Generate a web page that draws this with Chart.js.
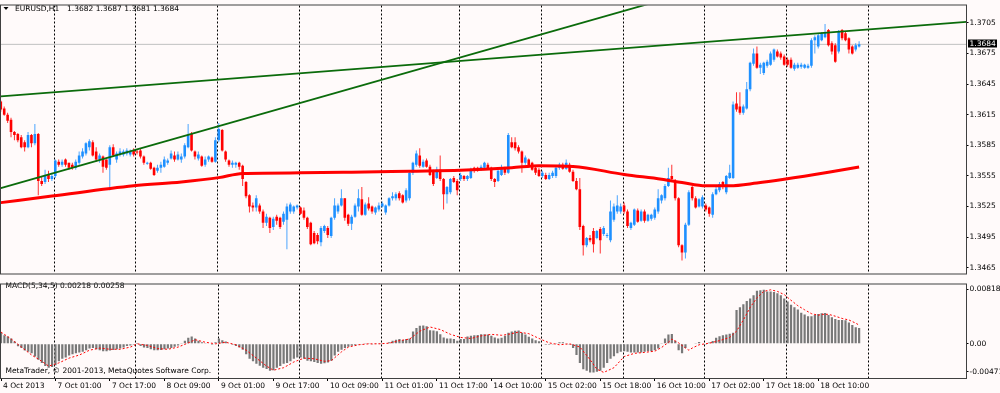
<!DOCTYPE html>
<html>
<head>
<meta charset="utf-8">
<title>EURUSD,H1</title>
<script src="https://cdn.jsdelivr.net/npm/chart.js@4.4.1/dist/chart.umd.min.js"></script>
<style>
  html, body { margin: 0; padding: 0; background: #FFFAFA; overflow: hidden; }
  #wrap { position: relative; width: 1000px; height: 393px; }
  canvas { position: absolute; left: 0; }
  #priceCanvas { top: 0; }
  #macdCanvas { top: 279px; }
</style>
</head>
<body>
<div id="wrap">
  <canvas id="priceCanvas" width="1000" height="279"></canvas>
  <canvas id="macdCanvas" width="1000" height="114"></canvas>
</div>
<script>
// EURUSD H1, bar 0 = 4 Oct 2013, last bar = 18 Oct 22:00
const symbol = 'EURUSD,H1';

const opens = [
  1.3628, 1.3621, 1.3615, 1.3610, 1.3598, 1.3596, 1.3593, 1.3588, 1.3583, 1.3595,
  1.3587, 1.3596, 1.3550, 1.3549, 1.3556, 1.3552, 1.3555, 1.3569, 1.3566, 1.3571,
  1.3568, 1.3566, 1.3563, 1.3568, 1.3574, 1.3577, 1.3583, 1.3588, 1.3579, 1.3571,
  1.3574, 1.3571, 1.3566, 1.3583, 1.3571, 1.3576, 1.3576, 1.3577, 1.3576, 1.3580,
  1.3579, 1.3580, 1.3574, 1.3567, 1.3568, 1.3563, 1.3560, 1.3563, 1.3564, 1.3568,
  1.3572, 1.3575, 1.3571, 1.3571, 1.3574, 1.3583, 1.3596, 1.3579, 1.3572, 1.3574,
  1.3566, 1.3571, 1.3573, 1.3569, 1.3590, 1.3600, 1.3579, 1.3570, 1.3566, 1.3566,
  1.3568, 1.3565, 1.3549, 1.3536, 1.3526, 1.3524, 1.3526, 1.3520, 1.3509, 1.3514,
  1.3505, 1.3515, 1.3514, 1.3510, 1.3512, 1.3520, 1.3520, 1.3524, 1.3524, 1.3521,
  1.3514, 1.3509, 1.3499, 1.3497, 1.3490, 1.3501, 1.3504, 1.3496, 1.3514, 1.3520,
  1.3526, 1.3533, 1.3517, 1.3508, 1.3515, 1.3525, 1.3532, 1.3517, 1.3528, 1.3525,
  1.3519, 1.3522, 1.3525, 1.3519, 1.3526, 1.3533, 1.3533, 1.3538, 1.3536, 1.3531,
  1.3533, 1.3558, 1.3566, 1.3575, 1.3564, 1.3570, 1.3564, 1.3560, 1.3553, 1.3561,
  1.3552, 1.3537, 1.3539, 1.3553, 1.3550, 1.3552, 1.3555, 1.3552, 1.3553, 1.3563,
  1.3563, 1.3561, 1.3563, 1.3566, 1.3563, 1.3552, 1.3550, 1.3556, 1.3563, 1.3558,
  1.3588, 1.3588, 1.3583, 1.3579, 1.3568, 1.3571, 1.3568, 1.3563, 1.3561, 1.3555,
  1.3556, 1.3552, 1.3555, 1.3555, 1.3563, 1.3566, 1.3562, 1.3566, 1.3559, 1.3550,
  1.3542, 1.3506, 1.3487, 1.3494, 1.3501, 1.3494, 1.3503, 1.3498, 1.3496, 1.3492,
  1.3512, 1.3520, 1.3520, 1.3526, 1.3520, 1.3504, 1.3507, 1.3521, 1.3511, 1.3520,
  1.3511, 1.3513, 1.3514, 1.3520, 1.3531, 1.3533, 1.3545, 1.3555, 1.3550, 1.3533,
  1.3487, 1.3480, 1.3507, 1.3544, 1.3533, 1.3525, 1.3525, 1.3526, 1.3524, 1.3517,
  1.3537, 1.3541, 1.3549, 1.3539, 1.3553, 1.3553, 1.3626, 1.3623, 1.3617, 1.3621,
  1.3640, 1.3665, 1.3675, 1.3661, 1.3656, 1.3663, 1.3664, 1.3669, 1.3677, 1.3675,
  1.3672, 1.3669, 1.3669, 1.3660, 1.3661, 1.3662, 1.3661, 1.3661, 1.3663, 1.3688,
  1.3682, 1.3688, 1.3691, 1.3698, 1.3685, 1.3683, 1.3677, 1.3698, 1.3695, 1.3690,
  1.3682, 1.3679, 1.3682
];

const highs = [
  1.3629, 1.3623, 1.3617, 1.3612, 1.3599, 1.3597, 1.3595, 1.3590, 1.3598, 1.3596,
  1.3606, 1.3597, 1.3555, 1.3561, 1.3560, 1.3558, 1.3571, 1.3571, 1.3571, 1.3572,
  1.3568, 1.3568, 1.3571, 1.3579, 1.3582, 1.3588, 1.3591, 1.3590, 1.3583, 1.3577,
  1.3575, 1.3571, 1.3585, 1.3586, 1.3579, 1.3582, 1.3581, 1.3582, 1.3581, 1.3582,
  1.3581, 1.3582, 1.3575, 1.3569, 1.3569, 1.3564, 1.3566, 1.3569, 1.3574, 1.3572,
  1.3580, 1.3579, 1.3579, 1.3577, 1.3587, 1.3606, 1.3598, 1.3580, 1.3579, 1.3575,
  1.3574, 1.3575, 1.3574, 1.3593, 1.3607, 1.3601, 1.3580, 1.3571, 1.3570, 1.3569,
  1.3569, 1.3566, 1.3550, 1.3537, 1.3529, 1.3536, 1.3528, 1.3522, 1.3518, 1.3515,
  1.3515, 1.3517, 1.3515, 1.3520, 1.3528, 1.3529, 1.3526, 1.3527, 1.3525, 1.3524,
  1.3515, 1.3510, 1.3501, 1.3499, 1.3506, 1.3507, 1.3506, 1.3515, 1.3533, 1.3528,
  1.3542, 1.3533, 1.3518, 1.3517, 1.3528, 1.3542, 1.3544, 1.3529, 1.3534, 1.3526,
  1.3525, 1.3529, 1.3530, 1.3527, 1.3534, 1.3539, 1.3539, 1.3540, 1.3537, 1.3543,
  1.3560, 1.3569, 1.3580, 1.3582, 1.3571, 1.3572, 1.3566, 1.3561, 1.3564, 1.3575,
  1.3553, 1.3545, 1.3553, 1.3555, 1.3552, 1.3558, 1.3556, 1.3556, 1.3563, 1.3564,
  1.3564, 1.3566, 1.3569, 1.3568, 1.3564, 1.3553, 1.3561, 1.3566, 1.3564, 1.3597,
  1.3593, 1.3593, 1.3585, 1.3580, 1.3575, 1.3572, 1.3569, 1.3564, 1.3563, 1.3560,
  1.3558, 1.3558, 1.3560, 1.3564, 1.3568, 1.3568, 1.3571, 1.3568, 1.3561, 1.3553,
  1.3553, 1.3507, 1.3495, 1.3497, 1.3504, 1.3502, 1.3505, 1.3506, 1.3499, 1.3531,
  1.3528, 1.3536, 1.3528, 1.3529, 1.3522, 1.3510, 1.3523, 1.3523, 1.3522, 1.3522,
  1.3518, 1.3518, 1.3524, 1.3542, 1.3537, 1.3547, 1.3563, 1.3566, 1.3552, 1.3534,
  1.3488, 1.3509, 1.3541, 1.3545, 1.3535, 1.3533, 1.3536, 1.3528, 1.3525, 1.3539,
  1.3544, 1.3549, 1.3550, 1.3556, 1.3566, 1.3628, 1.3637, 1.3637, 1.3625, 1.3647,
  1.3667, 1.3680, 1.3682, 1.3666, 1.3667, 1.3669, 1.3677, 1.3680, 1.3679, 1.3677,
  1.3674, 1.3671, 1.3671, 1.3666, 1.3666, 1.3666, 1.3665, 1.3665, 1.3690, 1.3693,
  1.3695, 1.3696, 1.3704, 1.3699, 1.3687, 1.3685, 1.3698, 1.3699, 1.3696, 1.3691,
  1.3683, 1.3685, 1.3687
];

const lows = [
  1.3618, 1.3614, 1.3607, 1.3593, 1.3590, 1.3588, 1.3582, 1.3579, 1.3582, 1.3583,
  1.3585, 1.3536, 1.3545, 1.3547, 1.3549, 1.3550, 1.3553, 1.3564, 1.3564, 1.3564,
  1.3561, 1.3561, 1.3561, 1.3566, 1.3572, 1.3575, 1.3580, 1.3574, 1.3569, 1.3568,
  1.3558, 1.3561, 1.3541, 1.3574, 1.3568, 1.3574, 1.3574, 1.3575, 1.3574, 1.3574,
  1.3576, 1.3572, 1.3566, 1.3566, 1.3561, 1.3555, 1.3558, 1.3558, 1.3563, 1.3566,
  1.3571, 1.3569, 1.3570, 1.3568, 1.3572, 1.3582, 1.3579, 1.3571, 1.3570, 1.3564,
  1.3564, 1.3569, 1.3568, 1.3568, 1.3588, 1.3579, 1.3569, 1.3564, 1.3563, 1.3563,
  1.3561, 1.3545, 1.3533, 1.3519, 1.3520, 1.3520, 1.3518, 1.3504, 1.3506, 1.3499,
  1.3502, 1.3507, 1.3503, 1.3507, 1.3483, 1.3518, 1.3518, 1.3522, 1.3517, 1.3512,
  1.3503, 1.3487, 1.3488, 1.3488, 1.3486, 1.3499, 1.3494, 1.3494, 1.3512, 1.3518,
  1.3525, 1.3511, 1.3506, 1.3502, 1.3514, 1.3520, 1.3516, 1.3516, 1.3521, 1.3518,
  1.3517, 1.3520, 1.3524, 1.3517, 1.3525, 1.3531, 1.3531, 1.3531, 1.3528, 1.3529,
  1.3531, 1.3556, 1.3564, 1.3563, 1.3563, 1.3563, 1.3555, 1.3545, 1.3552, 1.3550,
  1.3522, 1.3528, 1.3537, 1.3548, 1.3536, 1.3550, 1.3550, 1.3550, 1.3552, 1.3558,
  1.3559, 1.3560, 1.3561, 1.3561, 1.3550, 1.3544, 1.3549, 1.3555, 1.3556, 1.3557,
  1.3582, 1.3580, 1.3577, 1.3558, 1.3566, 1.3563, 1.3560, 1.3556, 1.3554, 1.3553,
  1.3551, 1.3551, 1.3553, 1.3553, 1.3561, 1.3561, 1.3561, 1.3558, 1.3549, 1.3541,
  1.3502, 1.3477, 1.3485, 1.3490, 1.3480, 1.3493, 1.3479, 1.3496, 1.3494, 1.3490,
  1.3510, 1.3518, 1.3518, 1.3518, 1.3504, 1.3502, 1.3506, 1.3509, 1.3510, 1.3509,
  1.3510, 1.3511, 1.3512, 1.3518, 1.3528, 1.3531, 1.3544, 1.3550, 1.3531, 1.3485,
  1.3472, 1.3474, 1.3506, 1.3531, 1.3523, 1.3524, 1.3523, 1.3520, 1.3515, 1.3514,
  1.3536, 1.3539, 1.3542, 1.3537, 1.3552, 1.3552, 1.3618, 1.3615, 1.3615, 1.3620,
  1.3638, 1.3663, 1.3660, 1.3655, 1.3654, 1.3661, 1.3663, 1.3667, 1.3671, 1.3669,
  1.3663, 1.3662, 1.3660, 1.3658, 1.3660, 1.3660, 1.3660, 1.3660, 1.3661, 1.3675,
  1.3680, 1.3687, 1.3690, 1.3682, 1.3674, 1.3666, 1.3675, 1.3688, 1.3687, 1.3675,
  1.3674, 1.3677, 1.3681
];

const closes = [
  1.3620, 1.3615, 1.3609, 1.3598, 1.3595, 1.3590, 1.3583, 1.3583, 1.3595, 1.3587,
  1.3596, 1.3550, 1.3547, 1.3556, 1.3552, 1.3555, 1.3570, 1.3566, 1.3569, 1.3566,
  1.3563, 1.3563, 1.3569, 1.3575, 1.3579, 1.3587, 1.3589, 1.3575, 1.3571, 1.3575,
  1.3564, 1.3563, 1.3583, 1.3575, 1.3577, 1.3579, 1.3579, 1.3580, 1.3579, 1.3576,
  1.3578, 1.3574, 1.3568, 1.3568, 1.3562, 1.3556, 1.3563, 1.3566, 1.3571, 1.3570,
  1.3577, 1.3571, 1.3576, 1.3574, 1.3585, 1.3595, 1.3580, 1.3574, 1.3576, 1.3565,
  1.3571, 1.3574, 1.3569, 1.3590, 1.3601, 1.3580, 1.3571, 1.3566, 1.3568, 1.3568,
  1.3564, 1.3552, 1.3535, 1.3525, 1.3524, 1.3533, 1.3520, 1.3509, 1.3515, 1.3504,
  1.3513, 1.3511, 1.3505, 1.3518, 1.3525, 1.3527, 1.3525, 1.3526, 1.3518, 1.3514,
  1.3505, 1.3488, 1.3489, 1.3491, 1.3504, 1.3506, 1.3497, 1.3514, 1.3526, 1.3526,
  1.3533, 1.3514, 1.3508, 1.3515, 1.3526, 1.3533, 1.3517, 1.3527, 1.3523, 1.3520,
  1.3524, 1.3526, 1.3528, 1.3526, 1.3533, 1.3535, 1.3537, 1.3533, 1.3529, 1.3541,
  1.3558, 1.3568, 1.3577, 1.3565, 1.3569, 1.3564, 1.3556, 1.3547, 1.3561, 1.3552,
  1.3537, 1.3544, 1.3552, 1.3549, 1.3541, 1.3556, 1.3552, 1.3555, 1.3561, 1.3560,
  1.3561, 1.3564, 1.3568, 1.3562, 1.3552, 1.3549, 1.3560, 1.3563, 1.3558, 1.3595,
  1.3583, 1.3582, 1.3579, 1.3568, 1.3573, 1.3564, 1.3561, 1.3558, 1.3555, 1.3558,
  1.3552, 1.3556, 1.3558, 1.3563, 1.3566, 1.3562, 1.3568, 1.3559, 1.3550, 1.3542,
  1.3505, 1.3487, 1.3494, 1.3492, 1.3488, 1.3501, 1.3492, 1.3504, 1.3497, 1.3520,
  1.3525, 1.3526, 1.3525, 1.3520, 1.3506, 1.3509, 1.3522, 1.3510, 1.3520, 1.3511,
  1.3517, 1.3517, 1.3522, 1.3533, 1.3536, 1.3545, 1.3553, 1.3552, 1.3533, 1.3487,
  1.3480, 1.3507, 1.3539, 1.3533, 1.3524, 1.3532, 1.3534, 1.3522, 1.3518, 1.3537,
  1.3542, 1.3547, 1.3544, 1.3555, 1.3558, 1.3625, 1.3620, 1.3617, 1.3623, 1.3640,
  1.3666, 1.3675, 1.3661, 1.3664, 1.3666, 1.3667, 1.3675, 1.3679, 1.3672, 1.3671,
  1.3664, 1.3664, 1.3661, 1.3664, 1.3664, 1.3664, 1.3664, 1.3663, 1.3688, 1.3691,
  1.3693, 1.3695, 1.3696, 1.3683, 1.3677, 1.3667, 1.3696, 1.3690, 1.3688, 1.3679,
  1.3675, 1.3683, 1.3684
];

// moving average read at a few bars along the red line
const maBars   = [0, 15, 39, 53, 64, 71, 88, 103, 120, 135, 150, 158, 168, 183, 194, 200, 207, 214, 222, 230, 243, 252];
const maValues = [1.35288, 1.35352, 1.35453, 1.35491, 1.35533, 1.35574, 1.35580, 1.35586, 1.35596, 1.35605, 1.35630,
                  1.35650, 1.35643, 1.35564, 1.35517, 1.35485, 1.35453, 1.35453, 1.35480, 1.35517, 1.35586, 1.35638];

// two trend lines (end points)
const trendABars = [0, 283.5];
const trendAPrices = [1.3633, 1.3706];
const trendBBars = [0, 200];
const trendBPrices = [1.3543, 1.3733];

// MACD(5,34,5) main (histogram)
const macdMain = [
   0.00153,  0.00118,  0.00101,  0.00074,  0.00031, -0.00032, -0.00058, -0.00092, -0.00110, -0.00131,
  -0.00175, -0.00219, -0.00263, -0.00307, -0.00329, -0.00320, -0.00294, -0.00241, -0.00206, -0.00188,
  -0.00162, -0.00145, -0.00131, -0.00118, -0.00110, -0.00088, -0.00066, -0.00058, -0.00075, -0.00088,
  -0.00101, -0.00101, -0.00092, -0.00084, -0.00075, -0.00066, -0.00049, -0.00031, -0.00023, -0.00014,
   0.00002, -0.00031, -0.00049, -0.00058, -0.00075, -0.00088, -0.00088, -0.00084, -0.00075, -0.00066,
  -0.00058, -0.00040, -0.00023,  0.00004,  0.00044,  0.00083,  0.00101,  0.00074,  0.00044,  0.00022,
   0.00004, -0.00005, -0.00014,  0.00022,  0.00074,  0.00048,  0.00031,  0.00009, -0.00014, -0.00031,
  -0.00049, -0.00080, -0.00145, -0.00206, -0.00241, -0.00276, -0.00302, -0.00329, -0.00346, -0.00372,
  -0.00364, -0.00329, -0.00307, -0.00276, -0.00263, -0.00241, -0.00206, -0.00188, -0.00188, -0.00206,
  -0.00232, -0.00241, -0.00250, -0.00263, -0.00276, -0.00267, -0.00258, -0.00232, -0.00162, -0.00110,
  -0.00080, -0.00058, -0.00040, -0.00027, -0.00018, -0.00010, -0.00002,  0.00013,  0.00004, -0.00001,
   0.00004,  0.00004,  0.00004,  0.00009,  0.00022,  0.00044,  0.00057,  0.00066,  0.00053,  0.00066,
   0.00074,  0.00171,  0.00219,  0.00250,  0.00254,  0.00241,  0.00188,  0.00184,  0.00175,  0.00131,
   0.00088,  0.00074,  0.00074,  0.00066,  0.00044,  0.00066,  0.00066,  0.00101,  0.00110,  0.00118,
   0.00123,  0.00131,  0.00131,  0.00127,  0.00110,  0.00088,  0.00074,  0.00083,  0.00110,  0.00153,
   0.00171,  0.00179,  0.00184,  0.00153,  0.00127,  0.00096,  0.00074,  0.00048,  0.00035,  0.00009,
  -0.00014, -0.00014, -0.00001,  0.00013,  0.00022,  0.00022,  0.00013, -0.00014, -0.00058, -0.00154,
  -0.00263, -0.00350, -0.00372, -0.00394, -0.00394, -0.00385, -0.00372, -0.00329, -0.00263, -0.00206,
  -0.00171, -0.00131, -0.00110, -0.00101, -0.00110, -0.00118, -0.00118, -0.00118, -0.00118, -0.00110,
  -0.00101, -0.00101, -0.00088, -0.00066,  0.00004,  0.00074,  0.00127,  0.00136,  0.00044, -0.00088,
  -0.00131, -0.00058, -0.00005,  0.00009,  0.00013,  0.00026,  0.00009, -0.00001,  0.00018,  0.00039,
   0.00083,  0.00105,  0.00118,  0.00127,  0.00140,  0.00153,  0.00468,  0.00503,  0.00547,  0.00591,
   0.00626,  0.00670,  0.00731,  0.00740,  0.00745,  0.00723,  0.00723,  0.00714,  0.00696,  0.00670,
   0.00626,  0.00583,  0.00539,  0.00503,  0.00473,  0.00429,  0.00403,  0.00381,  0.00381,  0.00399,
   0.00412,  0.00420,  0.00425,  0.00399,  0.00368,  0.00342,  0.00329,  0.00329,  0.00324,  0.00293,
   0.00258,  0.00228,  0.00218
];

// MACD signal line, read at selected bars
const signalBars = [0, 3, 6, 9, 12, 14, 17, 20, 23, 26, 29, 32, 35, 38, 40, 43, 46, 49, 52, 55, 57, 60, 63, 66, 69,
  72, 75, 78, 80, 83, 86, 89, 92, 95, 97, 100, 102, 105, 108, 111, 114, 117, 120, 123, 126, 129, 132, 135, 138, 141,
  144, 147, 149, 152, 155, 158, 161, 164, 167, 170, 173, 175, 177, 180, 183, 186, 189, 192, 194, 196, 197, 199, 201,
  202, 203, 205, 208, 211, 214, 216, 218, 220, 222, 224, 226, 228, 230, 232, 234, 236, 238, 240, 241, 243, 245, 247,
  249, 251, 252];
const signalValues = [0.00162, 0.00066, -0.00045, -0.00154, -0.00241, -0.00307, -0.00263, -0.00197, -0.00154, -0.00088,
  -0.00058, -0.00075, -0.00075, -0.00045, 0.00000, -0.00022, -0.00066, -0.00075, -0.00045, 0.00013, 0.00057, 0.00022,
  0.00000, 0.00022, -0.00013, -0.00088, -0.00197, -0.00307, -0.00364, -0.00329, -0.00250, -0.00197, -0.00206, -0.00241,
  -0.00232, -0.00110, -0.00045, -0.00013, 0.00000, 0.00000, 0.00009, 0.00044, 0.00066, 0.00175, 0.00232, 0.00197,
  0.00131, 0.00088, 0.00074, 0.00110, 0.00131, 0.00118, 0.00131, 0.00162, 0.00140, 0.00074, 0.00013, -0.00013, 0.00000,
  -0.00044, -0.00219, -0.00350, -0.00394, -0.00329, -0.00175, -0.00131, -0.00118, -0.00101, -0.00050, 0.00021, 0.00066,
  0.00013, -0.00058, -0.00088, -0.00058, -0.00013, 0.00009, 0.00044, 0.00088, 0.00175, 0.00329, 0.00503, 0.00635,
  0.00723, 0.00745, 0.00723, 0.00679, 0.00600, 0.00526, 0.00469, 0.00416, 0.00394, 0.00407, 0.00407, 0.00381, 0.00350,
  0.00329, 0.00285, 0.00258];

// axes
const xTickBars = [0, 16, 32, 48, 64, 80, 96, 112, 128, 144, 160, 176, 192, 208, 224, 240];
const xTickLabels = ['4 Oct 2013', '7 Oct 01:00', '7 Oct 17:00', '8 Oct 09:00', '9 Oct 01:00', '9 Oct 17:00',
  '10 Oct 09:00', '11 Oct 01:00', '11 Oct 17:00', '14 Oct 10:00', '15 Oct 02:00', '15 Oct 18:00',
  '16 Oct 10:00', '17 Oct 02:00', '17 Oct 18:00', '18 Oct 10:00'];
const gridBars = [15.6, 39.4, 63.6, 87.6, 111.5, 134.5, 158.5, 182.6, 206.5, 230.4, 254.5];
const priceTicks = [1.3705, 1.3675, 1.3645, 1.3615, 1.3585, 1.3555, 1.3525, 1.3495, 1.3465];
const macdTickValues = [0.00752, 0, -0.00388];
const macdTickLabels = ['0.00818', '0.00', '-0.00471'];

const xMin = 0, xMax = 283.53;
const priceMin = 1.34593, priceMax = 1.37221;
const macdMin = -0.00471, macdMax = 0.00818;

const last = closes.length - 1;
const bars = closes.map((_, i) => i);
const upColor = '#1E90FF', downColor = '#FF0000';
const bodyColors = bars.map(i => closes[i] >= opens[i] ? upColor : downColor);
const wickColors = bars.map(i => closes[i] >= opens[i] ? 'rgba(30,144,255,0.8)' : 'rgba(255,0,0,0.8)');

const axisFont = { family: 'DejaVu Sans', size: 7.5 };
const canvasFont = '7.5px "DejaVu Sans"';
const axisWidth = 33.5;

function pts(xs, ys) {
  return xs.map((x, i) => ({ x: x, y: ys[i] }));
}

// dotted vertical day lines + frame, shared by both windows
const mtGrid = {
  id: 'mtGrid',
  beforeDatasetsDraw(chart) {
    const { ctx, chartArea: a, scales } = chart;
    ctx.save();
    ctx.strokeStyle = '#000';
    ctx.lineWidth = 1;
    ctx.setLineDash([2, 2]);
    gridBars.forEach(b => {
      const px = Math.round(scales.x.getPixelForValue(b)) + 0.5;
      ctx.beginPath();
      ctx.moveTo(px, a.top);
      ctx.lineTo(px, a.bottom);
      ctx.stroke();
    });
    ctx.restore();
  },
  afterDraw(chart) {
    const { ctx, chartArea: a } = chart;
    ctx.save();
    ctx.strokeStyle = '#404040';
    ctx.lineWidth = 1;
    ctx.strokeRect(0.5, a.top - 0.5, 966, a.bottom - a.top + 1);
    ctx.restore();
  }
};

const priceLabels = {
  id: 'priceLabels',
  afterDraw(chart) {
    const { ctx, scales } = chart;
    ctx.save();
    ctx.fillStyle = '#000';
    ctx.font = canvasFont;
    ctx.textBaseline = 'middle';
    // little drop-down marker
    ctx.beginPath();
    ctx.moveTo(3.5, 7);
    ctx.lineTo(8.5, 7);
    ctx.lineTo(6, 10);
    ctx.closePath();
    ctx.fill();
    ctx.fillText(symbol, 15, 9);
    const ohlc = [opens[last], highs[last], lows[last], closes[last]].map(v => v.toFixed(4)).join(' ');
    ctx.fillText(ohlc, 67, 9);
    // bid box
    const yb = Math.round(scales.y.getPixelForValue(closes[last]));
    ctx.fillRect(968, yb - 4.5, 29, 8);
    ctx.fillStyle = '#fff';
    ctx.fillText(closes[last].toFixed(4), 969.5, yb);
    ctx.restore();
  }
};

const macdLabels = {
  id: 'macdLabels',
  afterDatasetsDraw(chart) {
    const { ctx } = chart;
    ctx.save();
    ctx.fillStyle = '#000';
    ctx.font = canvasFont;
    ctx.textBaseline = 'middle';
    ctx.fillText('MACD(5,34,5) ' + macdMain[last].toFixed(5) + ' ' + signalValues[signalValues.length - 1].toFixed(5), 5.5, 7.5);
    ctx.fillText('MetaTrader, \u00A9 2001-2013, MetaQuotes Software Corp.', 5.5, 92);
    ctx.restore();
  }
};

const priceChart = new Chart(document.getElementById('priceCanvas'), {
  type: 'bar',
  data: {
    datasets: [
      { type: 'line', data: pts(trendABars, trendAPrices), borderColor: '#0B6B0B', borderWidth: 1.8, pointRadius: 0, clip: 0 },
      { type: 'line', data: pts(trendBBars, trendBPrices), borderColor: '#0B6B0B', borderWidth: 1.8, pointRadius: 0, clip: 0 },
      { type: 'line', data: pts(maBars, maValues), borderColor: '#FF0000', borderWidth: 3, pointRadius: 0,
        cubicInterpolationMode: 'monotone', clip: 0 },
      { type: 'bar', data: bars.map(i => ({ x: i, y: [opens[i], closes[i]] })), backgroundColor: bodyColors,
        barThickness: 2.6, grouped: false, minBarLength: 1, inflateAmount: 0, borderWidth: 0, clip: 0 },
      { type: 'bar', data: bars.map(i => ({ x: i, y: [lows[i], highs[i]] })), backgroundColor: wickColors,
        barThickness: 1, grouped: false, inflateAmount: 0, borderWidth: 0, clip: 0 },
      { type: 'line', data: [{ x: xMin, y: closes[last] }, { x: xMax, y: closes[last] }], borderColor: '#C0C0C0',
        borderWidth: 1, pointRadius: 0, clip: 0 }
    ]
  },
  options: {
    responsive: false,
    animation: false,
    events: [],
    layout: { padding: { left: 0.8, top: 1, right: 0, bottom: 2 } },
    plugins: { legend: { display: false }, tooltip: { enabled: false } },
    scales: {
      x: { type: 'linear', display: false, min: xMin, max: xMax, offset: false, grid: { offset: false } },
      y: {
        type: 'linear', position: 'right', min: priceMin, max: priceMax,
        afterFit(s) { s.width = axisWidth; },
        afterBuildTicks(s) { s.ticks = priceTicks.map(v => ({ value: v })); },
        grid: { drawOnChartArea: false, tickLength: 2, tickColor: '#000', color: '#000' },
        border: { display: false },
        ticks: { callback: v => v.toFixed(4), font: axisFont, color: '#000', padding: 1, autoSkip: false }
      }
    }
  },
  plugins: [mtGrid, priceLabels]
});

const macdChart = new Chart(document.getElementById('macdCanvas'), {
  type: 'bar',
  data: {
    datasets: [
      { type: 'line', data: pts(signalBars, signalValues), borderColor: '#FF0000', borderWidth: 1, borderDash: [2, 2],
        pointRadius: 0, clip: 0 },
      { type: 'bar', data: bars.map(i => ({ x: i, y: macdMain[i] })), backgroundColor: '#787878',
        barThickness: 2.2, grouped: false, inflateAmount: 0, borderWidth: 0, clip: 0 }
    ]
  },
  options: {
    responsive: false,
    animation: false,
    events: [],
    layout: { padding: { left: 0.8, top: 1, right: 0, bottom: 0 } },
    plugins: { legend: { display: false }, tooltip: { enabled: false } },
    scales: {
      x: {
        type: 'linear', position: 'bottom', min: xMin, max: xMax, offset: false,
        afterFit(s) { s.height = 15; },
        afterBuildTicks(s) { s.ticks = xTickBars.map(v => ({ value: v })); },
        grid: { drawOnChartArea: false, tickLength: 3, tickColor: '#000', offset: false },
        border: { display: false },
        ticks: { callback: (v, i) => xTickLabels[i], font: axisFont, color: '#000', align: 'start',
          labelOffset: 2, padding: 1, maxRotation: 0, minRotation: 0, autoSkip: false }
      },
      y: {
        type: 'linear', position: 'right', min: macdMin, max: macdMax,
        afterFit(s) { s.width = axisWidth; },
        afterBuildTicks(s) { s.ticks = macdTickValues.map(v => ({ value: v })); },
        grid: { drawOnChartArea: false, tickLength: 2, tickColor: '#000' },
        border: { display: false },
        ticks: { callback: (v, i) => macdTickLabels[i], font: axisFont, color: '#000', padding: 1, autoSkip: false }
      }
    }
  },
  plugins: [mtGrid, macdLabels]
});
</script>
</body>
</html>
